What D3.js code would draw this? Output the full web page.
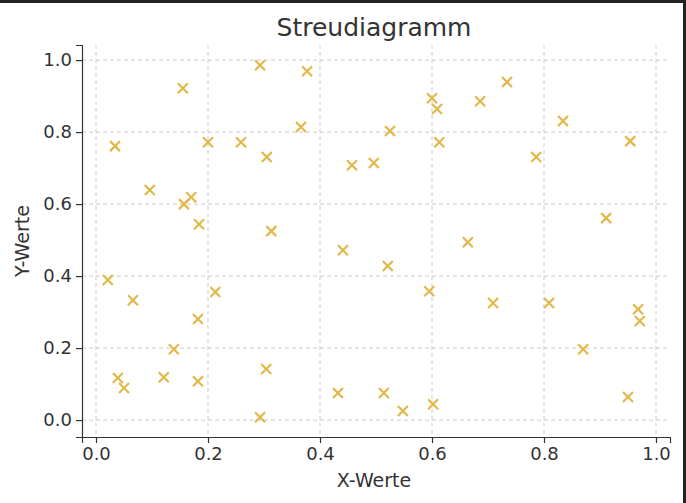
<!DOCTYPE html>
<html><head><meta charset="utf-8">
<script src="https://cdn.jsdelivr.net/npm/d3@7"></script>
<style>body{margin:0;background:#fff}svg{display:block;font-family:"DejaVu Sans",sans-serif}</style>
</head><body><svg id="chart" width="686" height="503"></svg>
<script>
const xValues = [0.293,0.377,0.155,0.734,0.600,0.609,0.686,0.366,0.525,0.834,0.034,0.200,0.259,0.305,0.613,0.786,0.954,0.457,0.496,0.096,0.170,0.157,0.184,0.313,0.911,0.441,0.664,0.521,0.021,0.066,0.213,0.595,0.709,0.809,0.968,0.971,0.182,0.139,0.870,0.039,0.050,0.121,0.182,0.304,0.432,0.514,0.548,0.602,0.950,0.293];
const yValues = [0.986,0.969,0.922,0.939,0.894,0.864,0.886,0.814,0.803,0.831,0.761,0.772,0.772,0.731,0.772,0.731,0.775,0.708,0.714,0.639,0.619,0.600,0.544,0.525,0.561,0.472,0.494,0.428,0.389,0.333,0.356,0.358,0.325,0.325,0.308,0.275,0.281,0.197,0.197,0.117,0.089,0.119,0.108,0.142,0.075,0.075,0.025,0.044,0.064,0.008];
const tickValues = [0, 0.2, 0.4, 0.6, 0.8, 1.0];

const svg = d3.select("#chart");
const x = d3.scaleLinear().domain([-0.025, 1.025]).range([82, 670]);
const y = d3.scaleLinear().domain([-0.047, 1.042]).range([437, 45]);

// frame edges from the screenshot
svg.append("rect").attr("x", 0).attr("y", 0).attr("width", 686).attr("height", 3).attr("fill", "#222");
svg.append("rect").attr("x", 683).attr("y", 0).attr("width", 3).attr("height", 503).attr("fill", "#222");

const grid = svg.append("g").attr("stroke", "#c4c4c4").attr("stroke-dasharray", "4,3").attr("stroke-width", 0.9);
tickValues.forEach((t) => {
  grid.append("line").attr("x1", x(t)).attr("x2", x(t)).attr("y1", 45).attr("y2", 437);
  grid.append("line").attr("x1", 82).attr("x2", 670).attr("y1", y(t)).attr("y2", y(t));
});

const xAxis = svg.append("g").attr("transform", "translate(0,437)")
  .call(d3.axisBottom(x).tickValues(tickValues).tickFormat(d3.format(".1f")).tickSize(6).tickPadding(4));
const yAxis = svg.append("g").attr("transform", "translate(82,0)")
  .call(d3.axisLeft(y).tickValues(tickValues).tickFormat(d3.format(".1f")).tickSize(6).tickPadding(4));
[xAxis, yAxis].forEach((a) => {
  a.selectAll("text").attr("font-size", 18).attr("fill", "#333").attr("font-family", "DejaVu Sans");
  a.selectAll("line,path").attr("stroke", "#333").attr("stroke-width", 1.2);
});

const s = 5;
svg.append("g").selectAll("path").data(xValues.map((v, i) => [v, yValues[i]])).join("path")
  .attr("d", (d) => `M${x(d[0]) - s},${y(d[1]) - s}L${x(d[0]) + s},${y(d[1]) + s}M${x(d[0]) - s},${y(d[1]) + s}L${x(d[0]) + s},${y(d[1]) - s}`)
  .attr("stroke", "#e2b84a").attr("stroke-width", 2.2).attr("fill", "none");

svg.append("text").attr("x", 374).attr("y", 36).attr("text-anchor", "middle")
  .attr("font-size", 25).attr("fill", "#333").text("Streudiagramm");
svg.append("text").attr("x", 374).attr("y", 487).attr("text-anchor", "middle")
  .attr("font-size", 19).attr("fill", "#333").text("X-Werte");
svg.append("text").attr("transform", "translate(29,241) rotate(-90)").attr("text-anchor", "middle")
  .attr("font-size", 19).attr("fill", "#333").text("Y-Werte");
</script></body></html>
